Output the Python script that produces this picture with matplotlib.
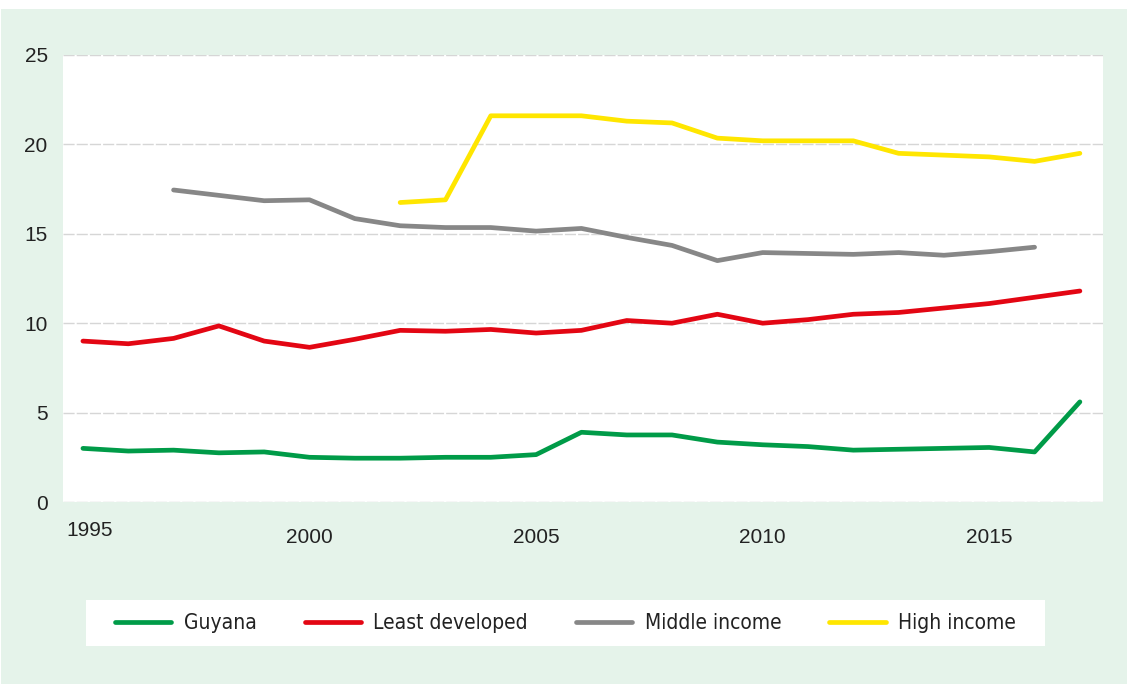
import numpy as np
import matplotlib
matplotlib.use("Agg")
import matplotlib.pyplot as plt
from matplotlib import font_manager
from matplotlib.patches import Rectangle
from matplotlib.transforms import ScaledTranslation

years = list(range(1995, 2018))

guyana = [3.0, 2.85, 2.9, 2.75, 2.8, 2.5, 2.45, 2.45, 2.5, 2.5, 2.65, 3.9,
          3.75, 3.75, 3.35, 3.2, 3.1, 2.9, 2.95, 3.0, 3.05, 2.8, 5.6]
least_developed = [9.0, 8.85, 9.15, 9.85, 9.0, 8.65, 9.1, 9.6, 9.55, 9.65, 9.45, 9.6,
                   10.15, 10.0, 10.5, 10.0, 10.2, 10.5, 10.6, 10.85, 11.1, 11.45, 11.8]
middle_years = list(range(1997, 2017))
middle_income = [17.45, 17.15, 16.85, 16.9, 15.85, 15.45, 15.35, 15.35, 15.15, 15.3,
                 14.8, 14.35, 13.5, 13.95, 13.9, 13.85, 13.95, 13.8, 14.0, 14.25]
high_years = list(range(2002, 2018))
high_income = [16.75, 16.9, 21.6, 21.6, 21.6, 21.3, 21.2, 20.35, 20.2, 20.2, 20.2,
               19.5, 19.4, 19.3, 19.05, 19.5]

series_names = ["Guyana", "Least developed", "Middle income", "High income"]
series_colors = ["#009b48", "#e30613", "#878787", "#ffe600"]

xtick_years = [1995, 2000, 2005, 2010, 2015]
ytick_values = [0, 5, 10, 15, 20, 25]

plt.rcParams["font.family"] = ["Liberation Sans", "DejaVu Sans"]

panel_color = "#e5f3ea"

fig = plt.figure(figsize=(11.27, 6.84), dpi=100)
fig.patch.set_facecolor("white")
# light green panel behind everything
fig.patches.append(Rectangle((1 / 1127, 0), 1126 / 1127, 675 / 684,
                             transform=fig.transFigure, facecolor=panel_color,
                             edgecolor="none", zorder=-10))

ax = fig.add_axes([63 / 1127, 1 - 502 / 684, 1040 / 1127, 447 / 684])
ax.set_facecolor("white")

lines = []
for xs, ys, name, color in zip([years, years, middle_years, high_years],
                               [guyana, least_developed, middle_income, high_income],
                               series_names, series_colors):
    ln, = ax.plot(xs, ys, color=color, lw=3.4, solid_capstyle="round",
                  solid_joinstyle="round", label=name, zorder=3)
    lines.append(ln)

ax.set_xlim(1994.56, 2017.51)
ax.set_ylim(0, 25)
ax.set_xticks(xtick_years)
ax.set_yticks(ytick_values)
ax.grid(axis="y", color="#d6d6d6", lw=1.0, linestyle=(0, (8, 1.5)), zorder=1)
for sp in ax.spines.values():
    sp.set_visible(False)
ax.tick_params(axis="both", length=0, labelsize=15, labelcolor="#222222")
ax.tick_params(axis="x", pad=19)
ax.tick_params(axis="y", pad=11)

# first year label sits a little higher and to the right
first = ax.get_xticklabels()[0]
first.set_transform(first.get_transform() + ScaledTranslation(7 / 100, 7 / 100, fig.dpi_scale_trans))

# white legend box
fig.patches.append(Rectangle((86 / 1127, 1 - 646 / 684), 959 / 1127, 46 / 684,
                             transform=fig.transFigure, facecolor="white",
                             edgecolor="none", zorder=-5))
fig.legend(handles=lines, labels=series_names, loc="center",
           bbox_to_anchor=((86 + 959 / 2) / 1127, 1 - 623 / 684),
           ncol=4, frameon=False, handlelength=2.7, handletextpad=0.6,
           columnspacing=2.3,
           prop={"family": "DejaVu Sans", "stretch": "condensed", "size": 15},
           labelcolor="#222222")

fig.savefig("out.png", dpi=100)
